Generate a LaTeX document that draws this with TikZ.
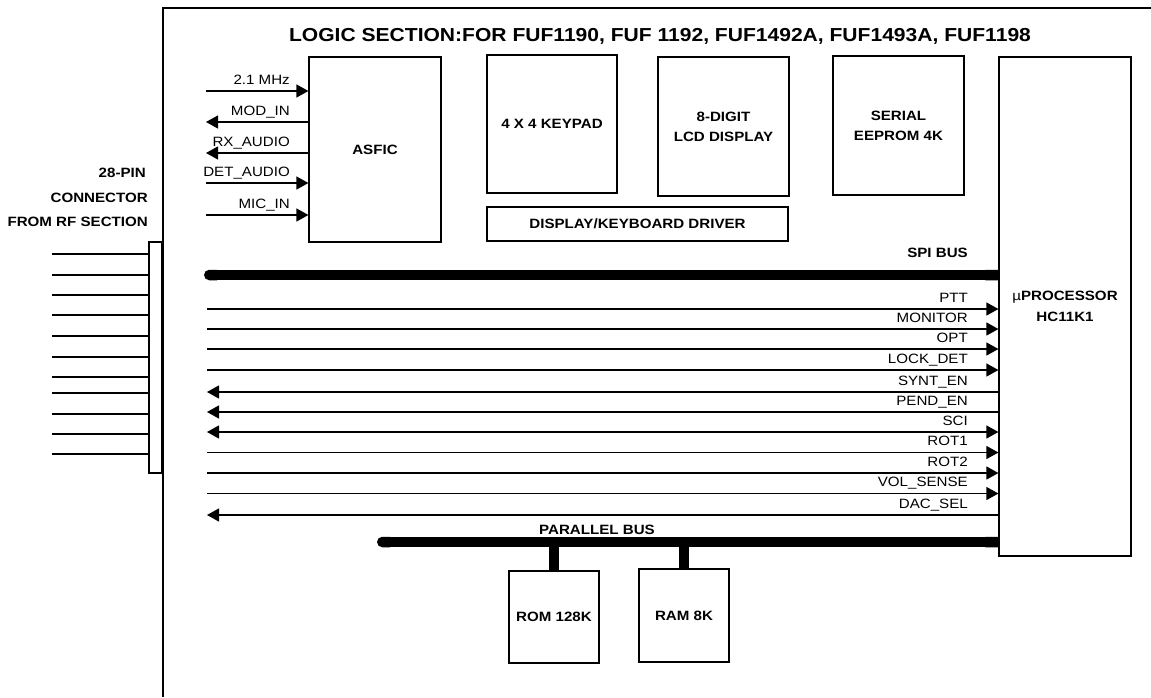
\documentclass[tikz,border=0pt]{standalone}
\usepackage{fontspec}
\setmainfont[FakeStretch=1.12]{Liberation Sans}
\usetikzlibrary{arrows.meta}

\begin{document}
\begin{tikzpicture}[x=1pt, y=-1pt,
  blk/.style={draw, line width=1.2pt, fill=white, inner sep=0pt, align=center,
    font=\fontsize{13.5}{20}\selectfont\bfseries},
  sig/.style={line width=1.2pt},
  sigin/.style={sig, -{Triangle[length=12pt,width=13pt]}},
  sigout/.style={sig, {Triangle[length=12pt,width=13pt]}-},
  sigbi/.style={sig, {Triangle[length=12pt,width=13pt]}-{Triangle[length=12pt,width=13pt]}},
  siglbl/.style={anchor=base east, inner sep=0pt, font=\fontsize{13.5}{16}\selectfont},
  buslbl/.style={inner sep=0pt, font=\fontsize{13.5}{16}\selectfont\bfseries},
  bus/.style={line width=10.5pt, {Round Cap[]}-{Butt Cap[]}},
  stub/.style={line width=10.5pt}]
% Page size of the exported figure
\useasboundingbox (0,0) rectangle (1151,697);
% Frame of the logic section
\draw[line width=1.2pt] (1151,8) -- (163,8) -- (163,697);
\node[anchor=base, inner sep=0pt, font=\fontsize{18.8}{22}\selectfont\bfseries] (title) at (660,41)
  {LOGIC SECTION:FOR FUF1190, FUF 1192, FUF1492A, FUF1493A, FUF1198};

% Blocks
\node[blk, minimum width=132pt, minimum height=185pt] (asfic) at (375,149.5) {ASFIC};
\node[blk, minimum width=130pt, minimum height=138pt] (keypad) at (552,124) {4 X 4 KEYPAD};
\node[blk, minimum width=131pt, minimum height=139pt] (lcd) at (723.5,126.5) {8-DIGIT\\LCD DISPLAY};
\node[blk, minimum width=131pt, minimum height=139pt] (eeprom) at (898.5,125.5) {SERIAL\\EEPROM 4K};
\node[blk, minimum width=301pt, minimum height=34pt] (driver) at (637.5,224) {DISPLAY/KEYBOARD DRIVER};
\node[blk, minimum width=132pt, minimum height=499pt, font=\fontsize{13.5}{21}\selectfont\bfseries] (proc)
  at (1065,306.5) {\textmd{µ}PROCESSOR\\HC11K1};
\node[blk, minimum width=90pt, minimum height=92pt] (rom) at (554,617) {ROM 128K};
\node[blk, minimum width=90pt, minimum height=93pt] (ram) at (684,615.5) {RAM 8K};
\node[blk, minimum width=13pt, minimum height=231pt] (conn) at (155.5,357.5) {};

% Connector labels
\node[buslbl, anchor=base east] (connlbla) at (146,177) {28-PIN};
\node[buslbl, anchor=base east] (connlblb) at (148,202) {CONNECTOR};
\node[buslbl, anchor=base east] (connlblc) at (148,226) {FROM RF SECTION};

% Connector pins
\coordinate (pina) at (52,254);
\coordinate (pinb) at (52,275);
\coordinate (pinc) at (52,295);
\coordinate (pind) at (52,315);
\coordinate (pine) at (52,336);
\coordinate (pinf) at (52,357);
\coordinate (ping) at (52,377);
\coordinate (pinh) at (52,393);
\coordinate (pini) at (52,414);
\coordinate (pinj) at (52,434);
\coordinate (pink) at (52,454);
\begin{scope}[sig]
  \draw (pina) -- (conn.west |- pina);
  \draw (pinb) -- (conn.west |- pinb);
  \draw (pinc) -- (conn.west |- pinc);
  \draw (pind) -- (conn.west |- pind);
  \draw (pine) -- (conn.west |- pine);
  \draw (pinf) -- (conn.west |- pinf);
  \draw (ping) -- (conn.west |- ping);
  \draw (pinh) -- (conn.west |- pinh);
  \draw (pini) -- (conn.west |- pini);
  \draw (pinj) -- (conn.west |- pinj);
  \draw (pink) -- (conn.west |- pink);
\end{scope}

% ASFIC signals
\coordinate (clk) at (206,91);
\coordinate (modin) at (206,122);
\coordinate (rxaudio) at (206,153);
\coordinate (detaudio) at (206,183);
\coordinate (micin) at (206,215);
\draw[sigin] (clk) -- (asfic.west |- clk);
\draw[sigout] (modin) -- (asfic.west |- modin);
\draw[sigout] (rxaudio) -- (asfic.west |- rxaudio);
\draw[sigin] (detaudio) -- (asfic.west |- detaudio);
\draw[sigin] (micin) -- (asfic.west |- micin);
\node[siglbl] (clklbl) at (290,84) {2.1 MHz};
\node[siglbl] (modinlbl) at (290,115) {MOD\_IN};
\node[siglbl] (rxaudiolbl) at (290,146) {RX\_AUDIO};
\node[siglbl] (detaudiolbl) at (290,176) {DET\_AUDIO};
\node[siglbl] (micinlbl) at (290,208) {MIC\_IN};

% Processor signals
\coordinate (ptt) at (207,309);
\coordinate (monitor) at (207,329);
\coordinate (opt) at (207,349);
\coordinate (lockdet) at (207,370);
\coordinate (synten) at (207,392);
\coordinate (penden) at (207,412);
\coordinate (sci) at (207,432);
\coordinate (rota) at (207,452.5);
\coordinate (rotb) at (207,473);
\coordinate (volsense) at (207,493.5);
\coordinate (dacsel) at (207,515);
\draw[sigin] (ptt) -- (proc.west |- ptt);
\draw[sigin] (monitor) -- (proc.west |- monitor);
\draw[sigin] (opt) -- (proc.west |- opt);
\draw[sigin] (lockdet) -- (proc.west |- lockdet);
\draw[sigout] (synten) -- (proc.west |- synten);
\draw[sigout] (penden) -- (proc.west |- penden);
\draw[sigbi] (sci) -- (proc.west |- sci);
\draw[sigin] (rota) -- (proc.west |- rota);
\draw[sigin] (rotb) -- (proc.west |- rotb);
\draw[sigin] (volsense) -- (proc.west |- volsense);
\draw[sigout] (dacsel) -- (proc.west |- dacsel);
\node[siglbl] (pttlbl) at (968,302) {PTT};
\node[siglbl] (monitorlbl) at (968,322) {MONITOR};
\node[siglbl] (optlbl) at (968,342) {OPT};
\node[siglbl] (lockdetlbl) at (968,363) {LOCK\_DET};
\node[siglbl] (syntenlbl) at (968,385) {SYNT\_EN};
\node[siglbl] (pendenlbl) at (968,405) {PEND\_EN};
\node[siglbl] (scilbl) at (968,425) {SCI};
\node[siglbl] (rotalbl) at (968,445.5) {ROT1};
\node[siglbl] (rotblbl) at (968,466) {ROT2};
\node[siglbl] (volsenselbl) at (968,486.5) {VOL\_SENSE};
\node[siglbl] (dacsellbl) at (968,508) {DAC\_SEL};

% Buses
\coordinate (spi) at (204,275);
\coordinate (pbus) at (377,542);
\draw[bus] (spi) -- (proc.west |- spi);
\draw[bus] (pbus) -- (proc.west |- pbus);
\draw[stub] (rom.north |- pbus) -- (rom.north);
\draw[stub] (ram.north |- pbus) -- (ram.north);
\node[buslbl, anchor=base east] (spilbl) at (968,257) {SPI BUS};
\node[buslbl, anchor=base] (pbuslbl) at (597,534) {PARALLEL BUS};
\end{tikzpicture}
\end{document}
